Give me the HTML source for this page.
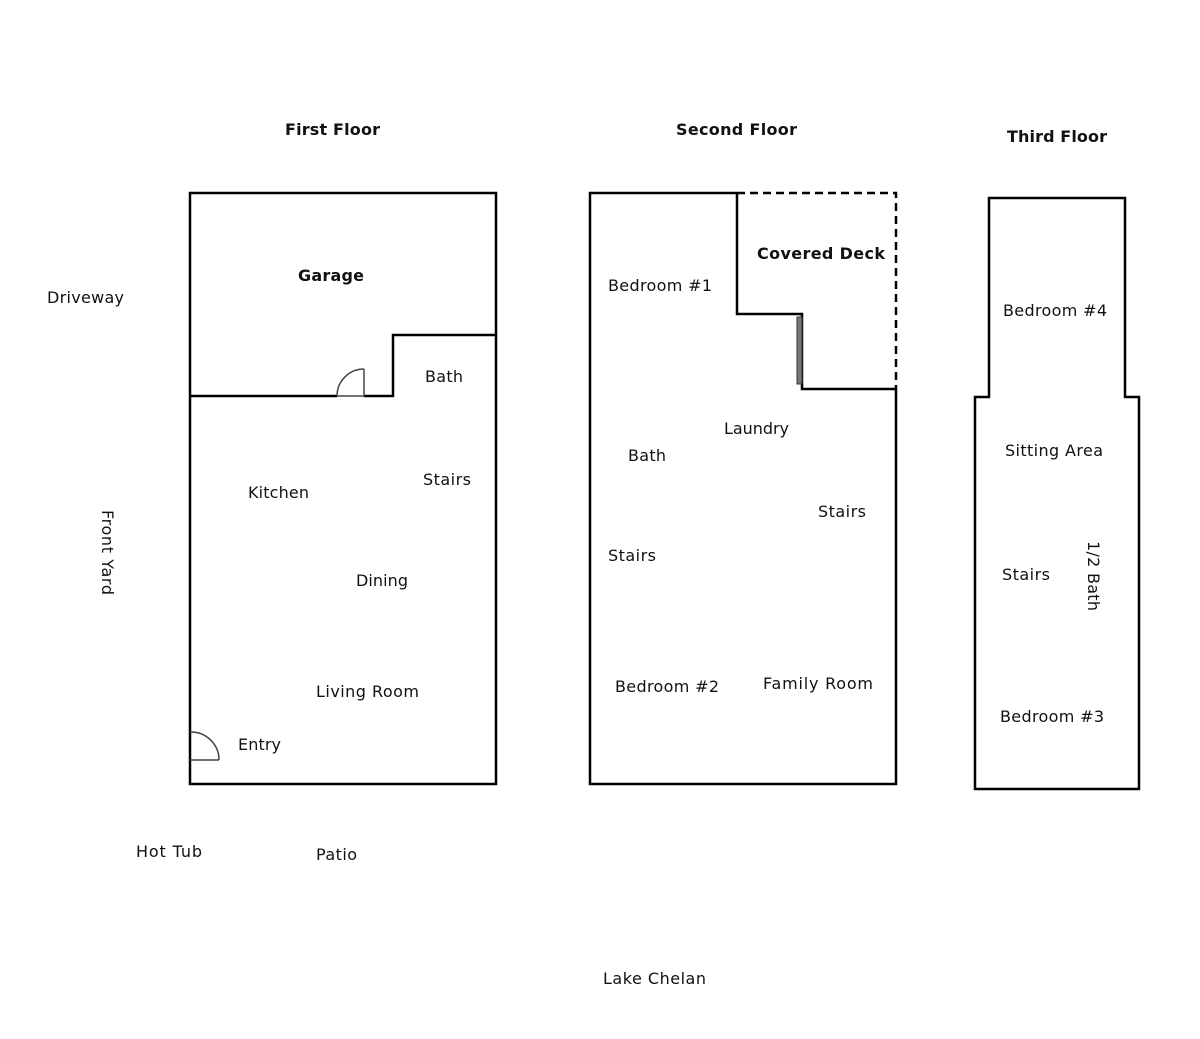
<!DOCTYPE html>
<html><head><meta charset="utf-8"><style>
html,body{margin:0;padding:0;background:#fff;}
svg{display:block;}
text{font-family:"DejaVu Sans","Liberation Sans",sans-serif;font-size:16px;fill:#111;}
.b{font-weight:bold;font-size:16px;}
</style></head><body>
<svg width="1200" height="1039" viewBox="0 0 1200 1039" xmlns="http://www.w3.org/2000/svg">
<g fill="none" stroke="#000" stroke-width="2.5">
<rect x="190" y="193" width="306" height="591"/>
<polyline points="190,396 337,396"/>
<polyline points="364,396 393,396 393,335 496,335"/>
</g>
<g fill="none" stroke="#444" stroke-width="1.5">
<line x1="337" y1="396" x2="364" y2="396"/>
<line x1="364" y1="396" x2="364" y2="369"/>
<path d="M364,369 A27,27 0 0 0 337,396"/>
<line x1="190" y1="760" x2="219" y2="760"/>
<path d="M190,732 A28,28 0 0 1 219,760"/>
</g>
<g fill="none" stroke="#000" stroke-width="2.5">
<polyline points="737,193 590,193 590,784 896,784 896,389"/>
<polyline points="737,193 737,314 802,314 802,389 896,389"/>
<polyline points="737,193 896,193 896,389" stroke-dasharray="8,5"/>
<polygon points="989,198 1125,198 1125,397 1139,397 1139,789 975,789 975,397 989,397"/>
</g>
<rect x="797" y="317" width="5" height="67" fill="#777" stroke="#333" stroke-width="1"/>

<text class="b" x="285" y="135" textLength="95">First Floor</text>
<text class="b" x="676" y="135" textLength="121">Second Floor</text>
<text class="b" x="1007" y="142" textLength="100">Third Floor</text>
<text class="b" x="298" y="281" textLength="66">Garage</text>
<text class="b" x="757" y="259" textLength="128">Covered Deck</text>

<text x="47" y="303" textLength="77">Driveway</text>
<text x="425" y="382" textLength="38">Bath</text>
<text x="248" y="498" textLength="61">Kitchen</text>
<text x="423" y="485" textLength="48">Stairs</text>
<text x="356" y="586" textLength="52">Dining</text>
<text x="316" y="697" textLength="103">Living Room</text>
<text x="238" y="750" textLength="43">Entry</text>
<text x="136" y="857" textLength="66">Hot Tub</text>
<text x="316" y="860" textLength="41">Patio</text>
<text x="603" y="984" textLength="103">Lake Chelan</text>

<text x="608" y="291" textLength="104">Bedroom #1</text>
<text x="724" y="434" textLength="65">Laundry</text>
<text x="628" y="461" textLength="38">Bath</text>
<text x="818" y="517" textLength="48">Stairs</text>
<text x="608" y="561" textLength="48">Stairs</text>
<text x="615" y="692" textLength="104">Bedroom #2</text>
<text x="763" y="689" textLength="110">Family Room</text>

<text x="1003" y="316" textLength="104">Bedroom #4</text>
<text x="1005" y="456" textLength="98">Sitting Area</text>
<text x="1002" y="580" textLength="48">Stairs</text>
<text x="1000" y="722" textLength="104">Bedroom #3</text>

<text transform="translate(1088,541) rotate(90)" x="0" y="0" textLength="70">1/2 Bath</text>
<text transform="translate(102,510) rotate(90)" x="0" y="0" textLength="85">Front Yard</text>
</svg>
</body></html>
